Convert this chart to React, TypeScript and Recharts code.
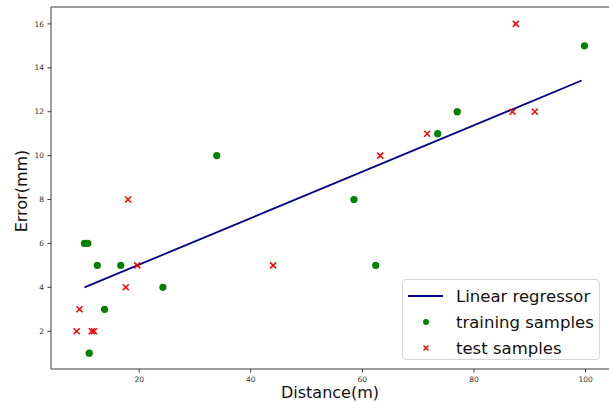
import {
  ComposedChart,
  Label,
  Line,
  ReferenceLine,
  Scatter,
  XAxis,
  YAxis,
} from 'recharts'

const TRAIN_X = [10.2, 10.8, 11.05, 12.5, 13.8, 16.7, 24.25, 33.9, 58.5, 62.4, 73.5, 77.0, 99.8]
const TRAIN_Y = [6, 6, 1, 5, 3, 5, 4, 10, 8, 5, 11, 12, 15]
const TEST_X = [8.8, 9.3, 11.5, 11.9, 17.6, 18.0, 19.65, 44.0, 63.2, 71.6, 86.9, 87.5, 90.9]
const TEST_Y = [2, 3, 2, 2, 4, 8, 5, 5, 10, 11, 12, 16, 12]
const LINE_X = [10.2, 99.3]
const LINE_Y = [4.0, 13.42]
const X_TICKS = [20, 40, 60, 80, 100]
const Y_TICKS = [2, 4, 6, 8, 10, 12, 14, 16]

const X_DOMAIN = [4.2, 104.2]
const Y_DOMAIN = [0.28, 16.77]

const GREEN = '#008000'
const RED = '#ff0000'
const NAVY = '#00008b'
const SPINE = '#3a3a3a'
const FONT = '"DejaVu Sans", sans-serif'

const train = TRAIN_X.map((x, i) => ({ x, y: TRAIN_Y[i] }))
const test = TEST_X.map((x, i) => ({ x, y: TEST_Y[i] }))
const fit = LINE_X.map((x, i) => ({ x, y: LINE_Y[i] }))

function Cross(props: any) {
  const { cx, cy } = props
  const s = 3
  return (
    <g stroke={RED} strokeWidth={1.5}>
      <line x1={cx - s} y1={cy - s} x2={cx + s} y2={cy + s} />
      <line x1={cx - s} y1={cy + s} x2={cx + s} y2={cy - s} />
    </g>
  )
}

function Dot(props: any) {
  const { cx, cy } = props
  return <circle cx={cx} cy={cy} r={3.6} fill={GREEN} />
}

const tickStyle = { fill: '#333', fontSize: 7.5, fontFamily: FONT }

export default function App() {
  return (
    <div
      style={{
        position: 'absolute',
        left: 0,
        top: 0,
        width: 609,
        height: 402,
        background: '#fff',
        fontFamily: FONT,
      }}
    >
      <ComposedChart width={609} height={402} margin={{ top: 7, right: 0, left: 0, bottom: 0 }}>
        <XAxis
          type="number"
          dataKey="x"
          domain={X_DOMAIN}
          ticks={X_TICKS}
          allowDataOverflow
          height={33}
          tick={tickStyle}
          tickSize={3.5}
          tickMargin={4}
          stroke={SPINE}
          tickLine={{ stroke: SPINE }}
        >
          <Label
            value="Distance(m)"
            position="center"
            dy={7}
            style={{ fontSize: 16, fill: '#111', fontFamily: FONT }}
          />
        </XAxis>
        <YAxis
          type="number"
          dataKey="y"
          domain={Y_DOMAIN}
          ticks={Y_TICKS}
          allowDataOverflow
          width={51}
          tick={tickStyle}
          tickSize={3.5}
          tickMargin={3.5}
          stroke={SPINE}
          tickLine={{ stroke: SPINE }}
        >
          <Label
            value="Error(mm)"
            position="center"
            angle={-90}
            dx={-4}
            dy={3}
            style={{ fontSize: 16, fill: '#111', fontFamily: FONT, textAnchor: 'middle' }}
          />
        </YAxis>
        <ReferenceLine y={Y_DOMAIN[1]} stroke={SPINE} />
        <Line
          data={fit}
          dataKey="y"
          stroke={NAVY}
          strokeWidth={1.8}
          dot={false}
          isAnimationActive={false}
          legendType="none"
        />
        <Scatter data={train} dataKey="y" shape={Dot} isAnimationActive={false} />
        <Scatter data={test} dataKey="y" shape={Cross} isAnimationActive={false} />
      </ComposedChart>
      <div
        style={{
          position: 'absolute',
          left: 402,
          top: 279,
          width: 198,
          height: 81,
          boxSizing: 'border-box',
          border: '1px solid #d6d6d6',
          borderRadius: 4,
          background: 'rgba(255,255,255,0.85)',
          fontSize: 16.5,
          color: '#111',
        }}
      >
        {[
          { name: 'Linear regressor', kind: 'line' },
          { name: 'training samples', kind: 'dot' },
          { name: 'test samples', kind: 'cross' },
        ].map((item, i) => (
          <div
            key={item.name}
            style={{ position: 'absolute', left: 0, top: 3 + i * 26, height: 26, display: 'flex', alignItems: 'center' }}
          >
            <svg width={50} height={26} style={{ display: 'block' }}>
              {item.kind === 'line' && <line x1={5} y1={13} x2={40} y2={13} stroke={NAVY} strokeWidth={1.8} />}
              {item.kind === 'dot' && <circle cx={23} cy={13} r={3} fill={GREEN} />}
              {item.kind === 'cross' && (
                <g stroke={RED} strokeWidth={1.4}>
                  <line x1={20.5} y1={10.5} x2={25.5} y2={15.5} />
                  <line x1={20.5} y1={15.5} x2={25.5} y2={10.5} />
                </g>
              )}
            </svg>
            <span style={{ marginLeft: 3, whiteSpace: 'nowrap' }}>{item.name}</span>
          </div>
        ))}
      </div>
    </div>
  )
}
